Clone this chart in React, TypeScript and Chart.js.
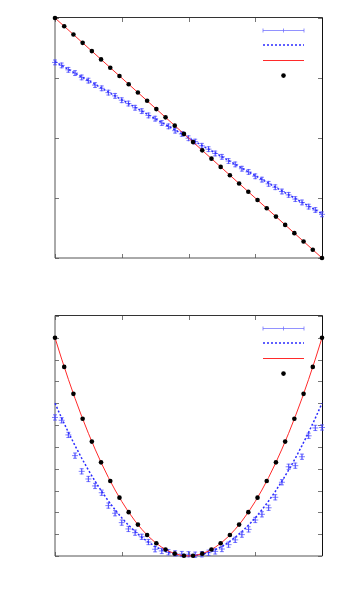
import React, { useEffect, useRef } from "react";
import { Chart, registerables } from "chart.js";
Chart.register(...registerables);

// ---- tick values ----
const xTickValues = [-1, -0.5, 0, 0.5, 1];
const topYTickValues = [-1, -0.5, 0, 0.5, 1];
const bottomYTickValues = [0, 1, 2, 3, 4, 5, 6, 7, 8, 9, 10, 11];

// ---- x positions ----
const sampleX = [
  -1, -0.95, -0.9, -0.85, -0.8, -0.75, -0.7, -0.65, -0.6, -0.55, -0.5, -0.45, -0.4, -0.35, -0.3, -0.25, -0.2,
  -0.15, -0.1, -0.05, 0, 0.05, 0.1, 0.15, 0.2, 0.25, 0.3, 0.35, 0.4, 0.45, 0.5, 0.55, 0.6, 0.65, 0.7, 0.75,
  0.8, 0.85, 0.9, 0.95, 1,
];
const pointX = [
  -1, -0.931, -0.862, -0.793, -0.724, -0.655, -0.586, -0.517, -0.448, -0.379, -0.31, -0.241, -0.172, -0.103,
  -0.034, 0.034, 0.103, 0.172, 0.241, 0.31, 0.379, 0.448, 0.517, 0.586, 0.655, 0.724, 0.793, 0.862, 0.931, 1,
];

// ---- top chart ----
const topBlueY = [
  0.63, 0.605, 0.568, 0.541, 0.505, 0.478, 0.441, 0.414, 0.378, 0.351, 0.315, 0.287, 0.252, 0.224, 0.188,
  0.161, 0.125, 0.097, 0.061, 0.034, -0.002, -0.03, -0.065, -0.093, -0.129, -0.157, -0.192, -0.22, -0.256,
  -0.283, -0.319, -0.347, -0.382, -0.41, -0.446, -0.474, -0.509, -0.537, -0.572, -0.6, -0.636,
];
const topBlueErr = 0.02;
const topFitX = [-1, 1];
const topFitY = [0.636, -0.631];
const topRedX = [-1, 1];
const topRedY = [1, -1];
const topBlackY = [
  1, 0.931, 0.862, 0.793, 0.724, 0.655, 0.586, 0.517, 0.448, 0.379, 0.31, 0.241, 0.172, 0.103, 0.034, -0.034,
  -0.103, -0.172, -0.241, -0.31, -0.379, -0.448, -0.517, -0.586, -0.655, -0.724, -0.793, -0.862, -0.931, -1,
];

// ---- bottom chart ----
const bottomBlueY = [
  6.35, 6.22, 5.55, 4.6, 3.88, 3.53, 3.21, 2.9, 2.31, 1.96, 1.53, 1.24, 1.07, 0.88, 0.64, 0.31, 0.23, 0.17,
  0.12, 0.09, 0.08, 0.06, 0.08, 0.15, 0.21, 0.32, 0.52, 0.74, 0.98, 1.22, 1.65, 1.91, 2.21, 2.69, 3.38, 4.09,
  4.14, 4.55, 5.51, 5.87, 5.89,
];
const bottomBlueErr = 0.12;
const bottomFitY = [
  7, 6.3175, 5.67, 5.0575, 4.48, 3.9375, 3.43, 2.9575, 2.52, 2.1175, 1.75, 1.4175, 1.12, 0.8575, 0.63, 0.4375,
  0.28, 0.1575, 0.07, 0.0175, 0, 0.0175, 0.07, 0.1575, 0.28, 0.4375, 0.63, 0.8575, 1.12, 1.4175, 1.75, 2.1175,
  2.52, 2.9575, 3.43, 3.9375, 4.48, 5.0575, 5.67, 6.3175, 7,
];
const bottomRedY = [
  10, 9.025, 8.1, 7.225, 6.4, 5.625, 4.9, 4.225, 3.6, 3.025, 2.5, 2.025, 1.6, 1.225, 0.9, 0.625, 0.4, 0.225,
  0.1, 0.025, 0, 0.025, 0.1, 0.225, 0.4, 0.625, 0.9, 1.225, 1.6, 2.025, 2.5, 3.025, 3.6, 4.225, 4.9, 5.625,
  6.4, 7.225, 8.1, 9.025, 10,
];
const bottomBlackY = [
  10, 8.668, 7.432, 6.29, 5.244, 4.293, 3.436, 2.675, 2.01, 1.439, 0.963, 0.583, 0.297, 0.107, 0.012, 0.012,
  0.107, 0.297, 0.583, 0.963, 1.439, 2.01, 2.675, 3.436, 4.293, 5.244, 6.29, 7.432, 8.668, 10,
];

const BLUE_PTS = "rgba(70,70,255,0.7)";
const BLUE_LEGEND = "rgba(110,110,255,0.75)";
const BLUE_LINE = "#2a2aff";
const RED = "#ff2a2a";

const zip = (xs: number[], ys: number[]) => xs.map((x, i) => ({ x, y: ys[i] }));

const framePlugin = {
  id: "frame",
  beforeDatasetsDraw(chart: any, _args: any, opts: any) {
    const { ctx, chartArea: a, scales } = chart;
    ctx.save();
    const line = (x1: number, y1: number, x2: number, y2: number) => {
      ctx.beginPath();
      ctx.moveTo(x1, y1);
      ctx.lineTo(x2, y2);
      ctx.stroke();
    };
    ctx.lineWidth = 1;
    ctx.strokeStyle = "#777";
    const tl = 4;
    for (const v of opts.xTicks) {
      const px = Math.round(scales.x.getPixelForValue(v)) + 0.5;
      line(px, a.bottom, px, a.bottom - tl);
      line(px, a.top, px, a.top + tl);
    }
    for (const v of opts.yTicks) {
      const py = Math.round(scales.y.getPixelForValue(v)) + 0.5;
      line(a.left, py, a.left + tl, py);
      line(a.right, py, a.right - tl, py);
    }
    ctx.strokeStyle = "#333";
    line(a.left, a.top - 0.5, a.right + 0.5, a.top - 0.5);
    ctx.strokeStyle = "#111";
    line(a.right + 0.5, a.top - 0.5, a.right + 0.5, a.bottom);
    ctx.strokeStyle = "#555";
    line(a.left, a.top - 0.5, a.left, a.bottom);
    line(a.left, a.bottom, a.right + 0.5, a.bottom);
    ctx.restore();
  },
};

const errPlugin = {
  id: "errbars",
  beforeDatasetsDraw(chart: any, _args: any, opts: any) {
    const { ctx, scales } = chart;
    const ds = chart.data.datasets[opts.datasetIndex];
    ctx.save();
    ctx.strokeStyle = BLUE_PTS;
    ctx.lineWidth = 1;
    for (const p of ds.data) {
      const px = scales.x.getPixelForValue(p.x);
      const y1 = scales.y.getPixelForValue(p.y - opts.err);
      const y2 = scales.y.getPixelForValue(p.y + opts.err);
      ctx.beginPath();
      ctx.moveTo(px, y1);
      ctx.lineTo(px, y2);
      ctx.moveTo(px - 2, y1);
      ctx.lineTo(px + 2, y1);
      ctx.moveTo(px - 2, y2);
      ctx.lineTo(px + 2, y2);
      ctx.stroke();
    }
    ctx.restore();
  },
};

const keyPlugin = {
  id: "key",
  afterDatasetsDraw(chart: any) {
    const { ctx, chartArea: a } = chart;
    const x1 = a.right - 59;
    const x2 = a.right - 18;
    const xm = (x1 + x2) / 2;
    ctx.save();
    // errorbar sample
    let y = Math.round(a.top + 12) + 0.5;
    ctx.strokeStyle = BLUE_LEGEND;
    ctx.lineWidth = 1;
    ctx.beginPath();
    ctx.moveTo(x1, y);
    ctx.lineTo(x2, y);
    ctx.moveTo(x1, y - 2);
    ctx.lineTo(x1, y + 2);
    ctx.moveTo(x2, y - 2);
    ctx.lineTo(x2, y + 2);
    ctx.moveTo(xm, y - 2);
    ctx.lineTo(xm, y + 2);
    ctx.stroke();
    // dashed fit sample
    y = Math.round(a.top + 27);
    ctx.strokeStyle = BLUE_LINE;
    ctx.lineWidth = 1.5;
    ctx.setLineDash([2, 2]);
    ctx.beginPath();
    ctx.moveTo(x1, y);
    ctx.lineTo(x2, y);
    ctx.stroke();
    ctx.setLineDash([]);
    // red line sample
    y = Math.round(a.top + 42) + 0.5;
    ctx.strokeStyle = RED;
    ctx.lineWidth = 1;
    ctx.beginPath();
    ctx.moveTo(x1, y);
    ctx.lineTo(x2, y);
    ctx.stroke();
    // black point sample
    y = a.top + 57.6;
    ctx.fillStyle = "#000";
    ctx.beginPath();
    ctx.arc(xm, y, 2.3, 0, Math.PI * 2);
    ctx.fill();
    ctx.restore();
  },
};

function makeConfig(
  blueY: number[],
  err: number,
  fitX: number[],
  fitY: number[],
  redX: number[],
  redY: number[],
  blackY: number[],
  yMin: number,
  yMax: number,
  yTicks: number[],
  padTop: number,
  padBottom: number
): any {
  return {
    type: "scatter",
    data: {
      datasets: [
        {
          data: zip(pointX, blackY),
          showLine: false,
          pointRadius: 2.3,
          pointBackgroundColor: "#000",
          pointBorderWidth: 0,
          clip: false,
        },
        {
          data: zip(redX, redY),
          showLine: true,
          borderColor: RED,
          borderWidth: 1,
          pointRadius: 0,
          clip: false,
        },
        {
          data: zip(fitX, fitY),
          showLine: true,
          borderColor: BLUE_LINE,
          borderWidth: 1.5,
          borderDash: [2, 2],
          pointRadius: 0,
          clip: false,
        },
        {
          data: zip(sampleX, blueY),
          showLine: false,
          pointStyle: "cross",
          pointRadius: 3,
          pointBorderColor: BLUE_PTS,
          pointBorderWidth: 1,
          clip: false,
        },
      ],
    },
    options: {
      responsive: false,
      animation: false,
      events: [],
      layout: { padding: { left: 55, right: 28, top: padTop, bottom: padBottom } },
      scales: {
        x: { type: "linear", min: -1, max: 1, display: false },
        y: { type: "linear", min: yMin, max: yMax, display: false },
      },
      plugins: {
        legend: { display: false },
        tooltip: { enabled: false },
        frame: { xTicks: xTickValues, yTicks: yTicks },
        errbars: { datasetIndex: 3, err },
      },
    },
    plugins: [framePlugin, errPlugin, keyPlugin],
  };
}

function ChartCanvas({ config, width, height, top }: { config: any; width: number; height: number; top: number }) {
  const ref = useRef<HTMLCanvasElement | null>(null);
  useEffect(() => {
    if (!ref.current) return;
    const chart = new Chart(ref.current, config);
    return () => chart.destroy();
  }, [config]);
  return (
    <canvas
      ref={ref}
      width={width}
      height={height}
      style={{ position: "absolute", left: 0, top, width, height, display: "block" }}
    />
  );
}

const topConfig = makeConfig(topBlueY, topBlueErr, topFitX, topFitY, topRedX, topRedY, topBlackY, -1, 1, topYTickValues, 18, 39);
const bottomConfig = makeConfig(
  bottomBlueY,
  bottomBlueErr,
  sampleX,
  bottomFitY,
  sampleX,
  bottomRedY,
  bottomBlackY,
  0,
  11,
  bottomYTickValues,
  19,
  39
);

export default function App() {
  return (
    <div style={{ position: "absolute", left: 0, top: 0, width: 350, height: 595, background: "#fff" }}>
      <ChartCanvas config={topConfig} width={350} height={297} top={0} />
      <ChartCanvas config={bottomConfig} width={350} height={298} top={297} />
    </div>
  );
}
